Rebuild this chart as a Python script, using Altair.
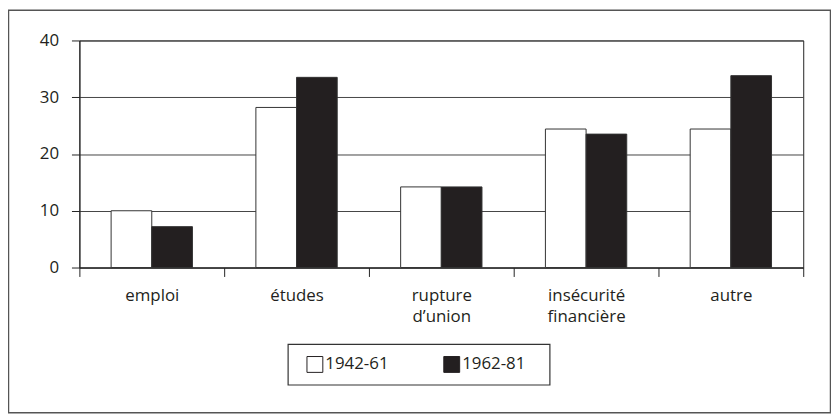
import altair as alt
import pandas as pd

categories = ["emploi", "études", "rupture|d’union", "insécurité|financière", "autre"]
series = ["1942-61", "1962-81"]
v1942 = [10.0, 28.2, 14.2, 24.4, 24.4]
v1962 = [7.2, 33.5, 14.2, 23.5, 33.8]
y_ticks = [0, 10, 20, 30, 40]
colors = ["#ffffff", "#231f20"]

rows = []
for c, a, b in zip(categories, v1942, v1962):
    rows.append({"cat": c, "period": series[0], "value": a})
    rows.append({"cat": c, "period": series[1], "value": b})
df = pd.DataFrame(rows)

FONT = "Open Sans"
INK = "#231f20"

bars = alt.Chart(df).mark_bar(stroke="#333333", strokeWidth=1).encode(
    x=alt.X(
        "cat:N", sort=categories, title=None,
        scale=alt.Scale(paddingInner=0, paddingOuter=0),
        axis=alt.Axis(
            labelAngle=0, tickBand="extent", labelExpr="split(datum.label, '|')",
            tickSize=9, labelPadding=11, labelFontSize=17, labelLineHeight=21,
            labelFont=FONT, labelColor=INK, domainColor="#222222", tickColor="#222222",
            grid=False, labelBaseline="top",
        ),
    ),
    xOffset=alt.XOffset("period:N", sort=series,
                        scale=alt.Scale(paddingInner=0, paddingOuter=0.78)),
    y=alt.Y(
        "value:Q", title=None,
        scale=alt.Scale(domain=[0, 40]),
        axis=alt.Axis(
            values=y_ticks, tickSize=8, labelPadding=13, labelFontSize=17,
            labelFont=FONT, labelColor=INK, domainColor="#222222", tickColor="#222222",
            gridColor="#444444", gridWidth=1, grid=True,
        ),
    ),
    color=alt.Color(
        "period:N", sort=series,
        scale=alt.Scale(domain=series, range=colors),
        legend=alt.Legend(
            title=None, orient="none", legendX=218, legendY=307, direction="horizontal",
            padding=11, symbolType="square", symbolSize=256,
            symbolStrokeColor=INK, symbolStrokeWidth=1, symbolOpacity=1,
            labelFont=FONT, labelFontSize=17, labelColor=INK, labelOffset=2,
            columnPadding=53,
        ),
    ),
)

frame = alt.Chart(pd.DataFrame({"k": [0]})).mark_rect(
    fill="transparent", stroke="#555555", strokeWidth=1.5
).encode(
    x=alt.value(-71.5), x2=alt.value(757.5), y=alt.value(-30.5), y2=alt.value(375.5)
)

legend_box = alt.Chart(pd.DataFrame({"k": [0]})).mark_rect(
    fill="transparent", stroke="#333333", strokeWidth=1.2
).encode(
    x=alt.value(210.5), x2=alt.value(474.5), y=alt.value(306.5), y2=alt.value(347.5)
)

chart = alt.layer(frame, legend_box, bars).properties(
    width=730, height=229,
    autosize=alt.AutoSizeParams(type="none"),
    padding={"left": 72, "top": 31, "right": 28, "bottom": 148},
    background="white",
).configure_view(stroke="#222222", strokeWidth=1)

chart.save("out.html", embed_options={"renderer": "svg", "actions": False})
